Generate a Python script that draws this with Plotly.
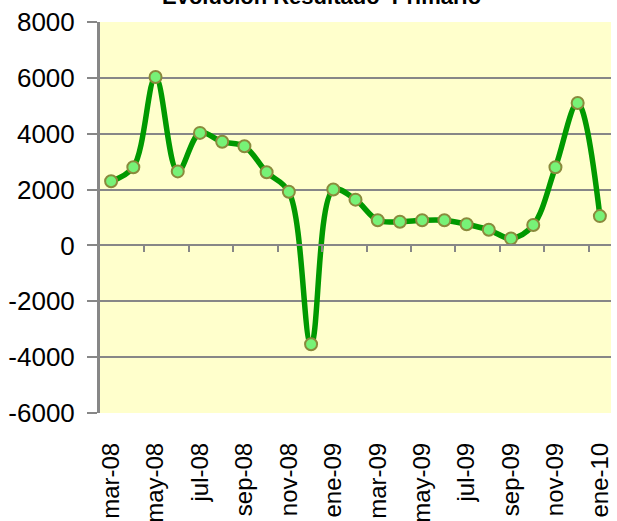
import plotly.graph_objects as go

months = ["mar-08", "abr-08", "may-08", "jun-08", "jul-08", "ago-08", "sep-08", "oct-08",
          "nov-08", "dic-08", "ene-09", "feb-09", "mar-09", "abr-09", "may-09", "jun-09",
          "jul-09", "ago-09", "sep-09", "oct-09", "nov-09", "dic-09", "ene-10"]
values = [2300, 2800, 6030, 2650, 4030, 3710, 3550, 2620, 1920, -3540, 2000, 1640,
          900, 850, 900, 900, 760, 560, 250, 730, 2800, 5100, 1050]
y_ticks = [-6000, -4000, -2000, 0, 2000, 4000, 6000, 8000]
y_tick_text = ["-6000", "-4000", "-2000", "0", "2000", "4000", "6000", "8000"]
title_text = "Evolución Resultado  Primario"

idx = list(range(len(months)))
label_pos = idx[::2]
label_txt = months[::2]
tick_bounds = [i - 0.5 for i in idx[2::2]]

FONT = "Arial, Liberation Sans, sans-serif"
GRAY = "#878787"

fig = go.Figure()
fig.add_trace(go.Scatter(
    x=idx, y=values, mode="lines+markers",
    line=dict(color="#009900", width=5.5, shape="spline", smoothing=1.0),
    marker=dict(size=12, color="#77F277", line=dict(color="#8A8A3C", width=2)),
    showlegend=False, hoverinfo="skip",
))
# helper (empty) trace so the zero-crossing category axis is drawn
fig.add_trace(go.Scatter(x=idx, y=[None] * len(idx), xaxis="x2", mode="lines",
                         showlegend=False, hoverinfo="skip"))

xr = [-0.5, len(months) - 0.5]
fig.update_layout(
    width=617, height=521,
    margin=dict(l=100, r=6, t=22, b=108),
    paper_bgcolor="white", plot_bgcolor="#FFFFCC",
    font=dict(family=FONT, size=26, color="black"),
    xaxis=dict(range=xr, tickmode="array", tickvals=label_pos, ticktext=label_txt,
               tickangle=-90, ticks="", showgrid=False, zeroline=False, showline=False,
               tickfont=dict(size=24), ticklabelstandoff=24, automargin=False),
    xaxis2=dict(range=xr, overlaying="x", anchor="free", position=6000 / 14000,
                tickmode="array", tickvals=tick_bounds, showticklabels=False,
                ticks="outside", ticklen=6, tickwidth=2, tickcolor=GRAY,
                showline=True, linecolor=GRAY, linewidth=2, showgrid=False,
                zeroline=False, automargin=False),
    yaxis=dict(range=[-6000, 8000], tickmode="array", tickvals=y_ticks,
               ticktext=y_tick_text,
               showgrid=True, gridcolor=GRAY, gridwidth=2, zeroline=False,
               showline=True, linecolor=GRAY, linewidth=3,
               ticks="outside", ticklen=10, tickwidth=2, tickcolor=GRAY,
               tickfont=dict(size=26), ticklabelstandoff=7, automargin=False),
)
fig.add_annotation(text="<b>" + title_text + "</b>", xref="paper", yref="paper",
                   x=0.4344, y=1.0, yshift=11, xanchor="center", yanchor="bottom",
                   showarrow=False, font=dict(size=22, family=FONT))
fig.write_html("out.html", config={"displayModeBar": False},
               post_script="document.body.style.margin='0';document.body.style.padding='0';")
